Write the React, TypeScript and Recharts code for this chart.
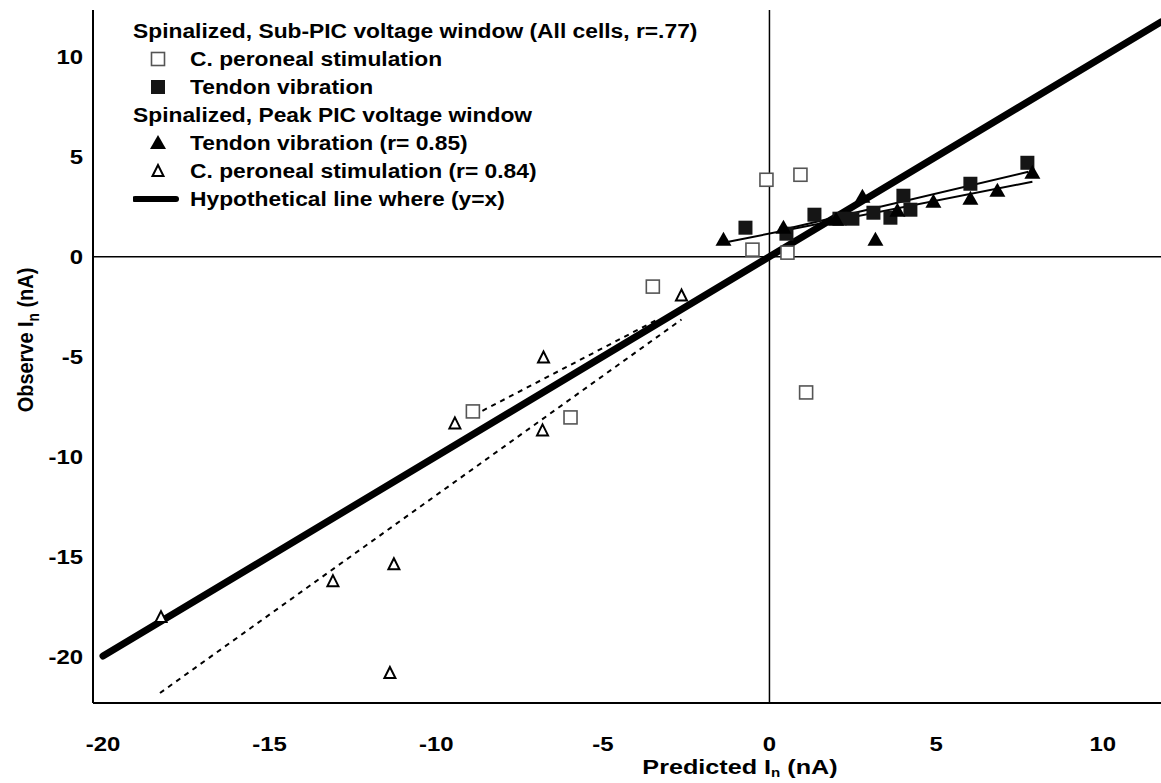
import React from 'react';
import { ScatterChart, Scatter, XAxis, YAxis, ReferenceLine, Label } from 'recharts';

// Sub-PIC voltage window
const peronealSub = [
  [-0.51, 0.35], [-0.09, 3.85], [0.93, 4.1], [0.54, 0.2], [-3.5, -1.5],
  [-8.9, -7.75], [-5.97, -8.05], [1.1, -6.8],
];
const tendonSub = [
  [-0.72, 1.45], [0.51, 1.15], [1.35, 2.1], [2.1, 1.9], [2.49, 1.9],
  [3.12, 2.2], [3.63, 1.95], [4.02, 3.05], [4.23, 2.35], [6.03, 3.65], [7.74, 4.7],
];
// Peak PIC voltage window
const tendonPeak = [
  [-1.38, 0.85], [0.42, 1.45], [2.0, 1.85], [2.79, 3.0], [3.18, 0.85],
  [3.84, 2.3], [4.92, 2.75], [6.03, 2.9], [6.84, 3.3], [7.89, 4.2],
];
const peronealPeak = [
  [-18.26, -18.05], [-13.1, -16.25], [-11.27, -15.4], [-11.39, -20.85],
  [-2.64, -1.95], [-6.78, -5.05], [-9.44, -8.35], [-6.81, -8.7],
];

// fitted lines (end points)
const identityLine = [[-20, -20], [11.75, 11.75]];
const tendonSubFit = [[0.4, 1.35], [7.77, 4.25]];
const tendonPeakFit = [[-1.23, 0.75], [7.89, 3.75]];
const peronealSubFit = [[-8.88, -7.95], [-3.36, -3.15]];
const peronealPeakFit = [[-18.29, -21.85], [-2.64, -3.15]];

const xTicks = [-20, -15, -10, -5, 0, 5, 10];
const yTicks = [-20, -15, -10, -5, 0, 5, 10];

const toPts = (arr: number[][]) => arr.map(([x, y]) => ({ x, y }));

const FONT = '"Liberation Sans", Arial, sans-serif';
const STRETCH = 1.14;

const OpenSquare = (p: any) => (
  <rect x={p.cx - 6.5} y={p.cy - 6.5} width={13} height={13} fill="#fff" stroke="#555" strokeWidth={1.6} />
);
const FilledSquare = (p: any) => (
  <rect x={p.cx - 7} y={p.cy - 7} width={14} height={14} fill="#151515" />
);
const FilledTriangle = (p: any) => (
  <polygon points={`${p.cx},${p.cy - 8} ${p.cx - 8},${p.cy + 6} ${p.cx + 8},${p.cy + 6}`} fill="#000" />
);
const OpenTriangle = (p: any) => (
  <polygon
    points={`${p.cx},${p.cy - 6} ${p.cx - 5.5},${p.cy + 5} ${p.cx + 5.5},${p.cy + 5}`}
    fill="#fff"
    stroke="#000"
    strokeWidth={2}
  />
);

const XTick = (p: any) => (
  <text
    transform={`translate(${p.x},${p.y}) scale(${STRETCH},1)`}
    textAnchor="middle"
    dy="0.71em"
    fontFamily={FONT}
    fontWeight={700}
    fontSize={21}
    fill="#000"
  >
    {p.payload.value}
  </text>
);
const YTick = (p: any) => (
  <text
    transform={`translate(${p.x},${p.y}) scale(${STRETCH},1)`}
    textAnchor="end"
    dy="0.36em"
    fontFamily={FONT}
    fontWeight={700}
    fontSize={21}
    fill="#000"
  >
    {p.payload.value}
  </text>
);

const legendRows = [
  { kind: 'head', text: 'Spinalized, Sub-PIC voltage window (All cells, r=.77)' },
  { kind: 'osq', text: 'C. peroneal stimulation' },
  { kind: 'fsq', text: 'Tendon vibration' },
  { kind: 'head', text: 'Spinalized, Peak PIC voltage window' },
  { kind: 'ftri', text: 'Tendon vibration (r= 0.85)' },
  { kind: 'otri', text: 'C. peroneal stimulation (r= 0.84)' },
  { kind: 'line', text: 'Hypothetical line where (y=x)' },
];

const LegendIcon = ({ kind }: { kind: string }) => {
  if (kind === 'head') return null;
  return (
    <svg width={57} height={28} style={{ display: 'inline-block', verticalAlign: 'top' }}>
      {kind === 'osq' && <OpenSquare cx={25} cy={14} />}
      {kind === 'fsq' && <FilledSquare cx={25} cy={14} />}
      {kind === 'ftri' && <FilledTriangle cx={25} cy={14} />}
      {kind === 'otri' && <OpenTriangle cx={25} cy={14} />}
      {kind === 'line' && <line x1={2} y1={14} x2={43} y2={14} stroke="#000" strokeWidth={6} strokeLinecap="round" />}
    </svg>
  );
};

const ChartLegend = () => (
  <div
    style={{
      position: 'absolute',
      left: 133,
      top: 17,
      fontFamily: FONT,
      fontWeight: 700,
      fontSize: 20,
      lineHeight: '28px',
      color: '#000',
      whiteSpace: 'nowrap',
    }}
  >
    {legendRows.map((r, i) => (
      <div key={i} style={{ height: 28 }}>
        <LegendIcon kind={r.kind} />
        <span style={{ display: 'inline-block', transform: `scaleX(${STRETCH})`, transformOrigin: 'left center' }}>
          {r.text}
        </span>
      </div>
    ))}
  </div>
);

export default function App() {
  return (
    <div style={{ position: 'absolute', left: 0, top: 0, width: 1161, height: 783, background: '#fff' }}>
      <ScatterChart width={1161} height={783} margin={{ top: 10, right: 0, bottom: 0, left: 0 }}>
        <XAxis
          type="number"
          dataKey="x"
          domain={[-20.3, 11.75]}
          allowDataOverflow
          ticks={xTicks}
          tickLine={false}
          tickSize={6}
          tickMargin={27}
          height={80}
          axisLine={{ stroke: '#000', strokeWidth: 2 }}
          tick={XTick}
        >
          <Label
            content={() => (
              <text
                transform={`translate(740,774) scale(1.26,1)`}
                textAnchor="middle"
                fontFamily={FONT}
                fontWeight={700}
                fontSize={20}
                fill="#000"
              >
                Predicted I
                <tspan fontSize={12} dy={3}>n</tspan>
                <tspan dy={-3}> (nA)</tspan>
              </text>
            )}
          />
        </XAxis>
        <YAxis
          type="number"
          dataKey="y"
          domain={[-22.35, 12.35]}
          allowDataOverflow
          ticks={yTicks}
          tickLine={false}
          tickSize={6}
          tickMargin={4}
          width={93}
          axisLine={{ stroke: '#000', strokeWidth: 2 }}
          tick={YTick}
        >
          <Label
            content={() => (
              <text
                transform="translate(33,340) rotate(-90) scale(1.05,1.2)"
                textAnchor="middle"
                fontFamily={FONT}
                fontWeight={700}
                fontSize={19}
                fill="#000"
              >
                Observe I
                <tspan fontSize={13} dy={5}>n</tspan>
                <tspan dy={-5}> (nA)</tspan>
              </text>
            )}
          />
        </YAxis>

        <ReferenceLine x={0} stroke="#000" strokeWidth={1.5} />
        <ReferenceLine y={0} stroke="#000" strokeWidth={1.5} />

        <ReferenceLine segment={toPts(peronealPeakFit)} stroke="#000" strokeWidth={2} strokeDasharray="5 5" />
        <ReferenceLine segment={toPts(peronealSubFit)} stroke="#000" strokeWidth={2} strokeDasharray="5 5" />
        <ReferenceLine segment={toPts(tendonSubFit)} stroke="#000" strokeWidth={2} />
        <ReferenceLine segment={toPts(tendonPeakFit)} stroke="#000" strokeWidth={2} />
        <ReferenceLine segment={toPts(identityLine)} stroke="#000" strokeWidth={7} strokeLinecap="round" />

        <Scatter data={toPts(peronealSub)} shape={OpenSquare} isAnimationActive={false} />
        <Scatter data={toPts(peronealPeak)} shape={OpenTriangle} isAnimationActive={false} />
        <Scatter data={toPts(tendonSub)} shape={FilledSquare} isAnimationActive={false} />
        <Scatter data={toPts(tendonPeak)} shape={FilledTriangle} isAnimationActive={false} />
      </ScatterChart>
      <ChartLegend />
    </div>
  );
}
